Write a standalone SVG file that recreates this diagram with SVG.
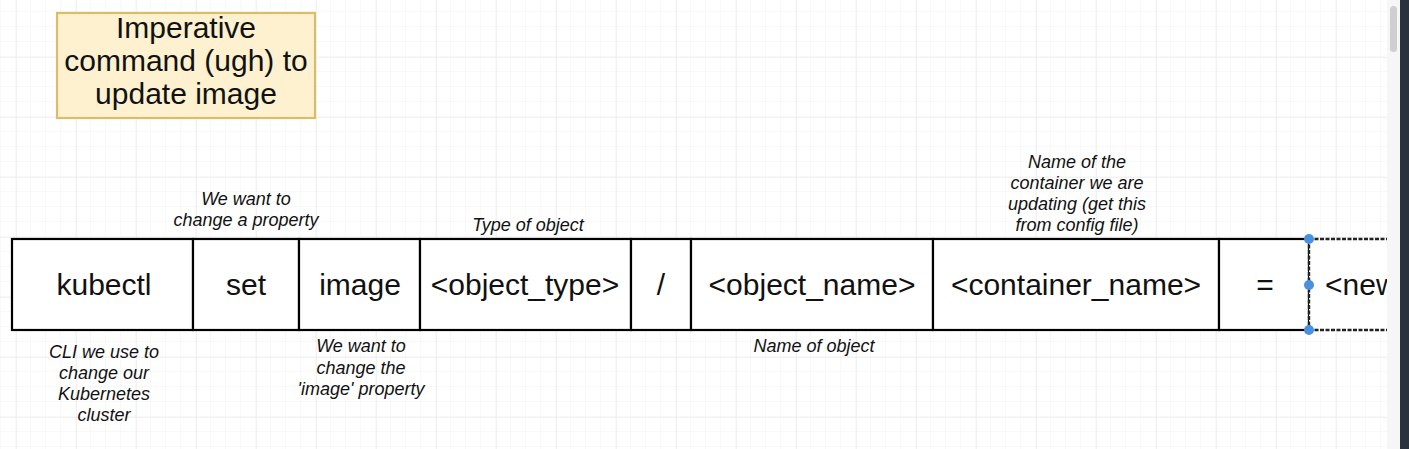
<svg xmlns="http://www.w3.org/2000/svg" width="1409" height="449" viewBox="0 0 1409 449">
<defs>
<pattern id="minor" x="1" y="12" width="15" height="15" patternUnits="userSpaceOnUse">
<path d="M15 0V15M0 15H15" fill="none" stroke="#f2f2f2" stroke-width="1"/>
</pattern>
<pattern id="major" x="16" y="57" width="60" height="60" patternUnits="userSpaceOnUse">
<path d="M0 0V60M0 0H60" fill="none" stroke="#e6e6e6" stroke-width="1"/>
</pattern>
<clipPath id="clipNew"><rect x="1309" y="239" width="78" height="91"/></clipPath>
</defs>
<style>
.cell{fill:#ffffff;stroke:#000;stroke-width:2.2}
.big{font-family:"Liberation Sans",Arial,sans-serif;font-size:30px;fill:#111;text-anchor:middle}
.note{font-family:"Liberation Sans",Arial,sans-serif;font-size:18px;font-style:italic;fill:#111;text-anchor:middle}
.handle{fill:#4a90e2}
</style>
<rect x="0" y="0" width="1409" height="449" fill="#ffffff"/>
<rect x="0" y="0" width="1387" height="449" fill="url(#minor)"/>
<rect x="0" y="0" width="1387" height="449" fill="url(#major)"/>

<g id="title">
<rect x="57" y="13" width="258" height="105" fill="#fdf1cf" stroke="#d9bd6a" stroke-width="2.2"/>
<text class="big" x="186" y="38" font-size="28">Imperative</text>
<text class="big" x="186" y="71" font-size="28">command (ugh) to</text>
<text class="big" x="186" y="104" font-size="28">update image</text>
</g>

<g id="row">
<g id="n-kubectl"><rect class="cell" x="12" y="239" width="181" height="91"/><text class="big" x="104" y="295">kubectl</text></g>
<g id="n-set"><rect class="cell" x="193" y="239" width="106" height="91"/><text class="big" x="246" y="295">set</text></g>
<g id="n-image"><rect class="cell" x="299" y="239" width="121" height="91"/><text class="big" x="360" y="295">image</text></g>
<g id="n-type"><rect class="cell" x="420" y="239" width="211" height="91"/><text class="big" x="525" y="295">&lt;object_type&gt;</text></g>
<g id="n-slash"><rect class="cell" x="631" y="239" width="60" height="91"/><text class="big" x="661" y="295">/</text></g>
<g id="n-name"><rect class="cell" x="691" y="239" width="242" height="91"/><text class="big" x="812" y="295">&lt;object_name&gt;</text></g>
<g id="n-container"><rect class="cell" x="933" y="239" width="286" height="91"/><text class="big" x="1076" y="295">&lt;container_name&gt;</text></g>
<g id="n-eq"><rect class="cell" x="1219" y="239" width="90" height="91"/><text class="big" x="1265" y="295">=</text></g>
<g id="n-new">
<rect x="1309" y="239" width="78" height="91" fill="#ffffff"/>
<text class="big" x="1325" y="295" style="text-anchor:start" clip-path="url(#clipNew)">&lt;new</text>
<path d="M1309 239H1387M1309 330H1387M1309 239V330" fill="none" stroke="#222" stroke-width="2.4" stroke-dasharray="4 1.5"/>
<circle class="handle" cx="1309" cy="239" r="5"/>
<circle class="handle" cx="1309" cy="285" r="5"/>
<circle class="handle" cx="1309" cy="330" r="5"/>
</g>
</g>

<g id="connectors"></g>

<g id="labels">
<g id="l-set"><text class="note" x="246" y="205">We want to</text><text class="note" x="246" y="226">change a property</text></g>
<g id="l-type"><text class="note" x="528" y="231">Type of object</text></g>
<g id="l-container"><text class="note" x="1077" y="168">Name of the</text><text class="note" x="1077" y="189">container we are</text><text class="note" x="1077" y="210">updating (get this</text><text class="note" x="1077" y="231">from config file)</text></g>
<g id="l-kubectl"><text class="note" x="104" y="358">CLI we use to</text><text class="note" x="104" y="379">change our</text><text class="note" x="104" y="400">Kubernetes</text><text class="note" x="104" y="421">cluster</text></g>
<g id="l-image"><text class="note" x="361" y="352">We want to</text><text class="note" x="361" y="374">change the</text><text class="note" x="361" y="395">'image' property</text></g>
<g id="l-name"><text class="note" x="814" y="352">Name of object</text></g>
</g>

<g id="scrollbar">
<rect x="1387" y="0" width="13" height="449" fill="#f6f6f6"/>
<rect x="1390" y="6" width="7" height="46" rx="3.5" fill="#cfcfcf"/>
<rect x="1400" y="0" width="9" height="449" fill="#2a323d"/>
</g>
</svg>
